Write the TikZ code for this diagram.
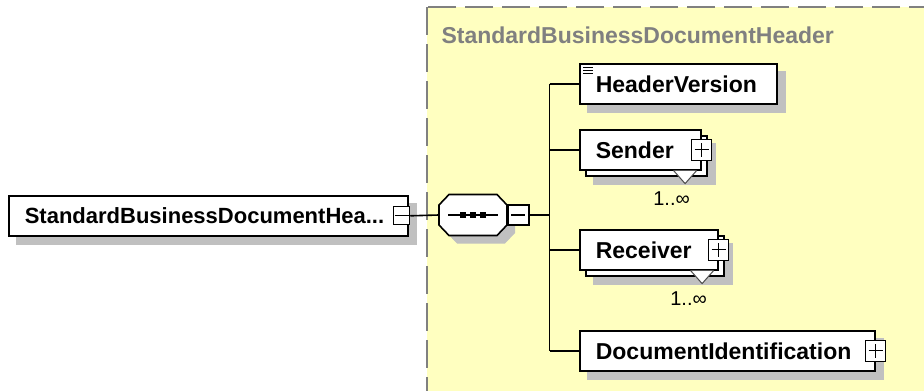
\documentclass[tikz,border=0pt]{standalone}
\usepackage{fontspec}
\setmainfont{Liberation Sans}
\usetikzlibrary{shadows}
\definecolor{regionyellow}{RGB}{255,255,192}
\definecolor{regiongray}{RGB}{128,128,128}
\definecolor{shadowgray}{RGB}{192,192,192}
\begin{document}
\begin{tikzpicture}[
x=1pt, y=-1pt,
box/.style={draw, fill=white, line width=1.6pt, anchor=north west, minimum height=40pt,
    inner xsep=16pt, inner ysep=0pt, align=left, font=\fontsize{23}{27}\selectfont\bfseries},
elem/.style={box, general shadow={fill=shadowgray, draw=shadowgray, shadow xshift=8pt, shadow yshift=-8pt}},
multi/.style={box,
    general shadow={fill=shadowgray, draw=shadowgray, shadow xshift=14pt, shadow yshift=-14pt},
    copy shadow={fill=white, draw=black, shadow xshift=6pt, shadow yshift=-6pt}},
toggle/.style={draw, fill=white, line width=1.3pt, minimum width=20pt, minimum height=21pt, inner sep=0pt},
minus/.style={toggle, path picture={
    \draw[line width=1.3pt] ([xshift=-7pt]path picture bounding box.center) -- ([xshift=7pt]path picture bounding box.center);}},
plus/.style={toggle, path picture={
    \draw[line width=1.3pt] ([xshift=-7pt]path picture bounding box.center) -- ([xshift=7pt]path picture bounding box.center);
    \draw[line width=1.3pt] ([yshift=-7pt]path picture bounding box.center) -- ([yshift=7pt]path picture bounding box.center);}},
seqoutline/.style={insert path={(-34,-10) -- (-24,-20.5) -- (24,-20.5) -- (34,-10) -- (34,10) -- (24,20.5) -- (-24,20.5) -- (-34,10) -- cycle}},
seqnode/.style={minimum width=68pt, minimum height=41pt, inner sep=0pt},
region/.style={fill=regionyellow, draw=regiongray, line width=2pt, dash pattern=on 28pt off 9pt},
title/.style={anchor=west, text=regiongray, font=\fontsize{23}{27}\selectfont\bfseries},
mult/.style={font=\fontsize{20}{24}\selectfont},
link/.style={line width=1.6pt},
notch/.style={fill=white, draw=black!70, line width=1pt}
]
\fill[white] (0,0) rectangle (924,391);
\useasboundingbox (0,0) rectangle (924,391);
\begin{scope}
\clip (0,0) rectangle (924,391);
\draw[region] (427,7) rectangle (944,411);
\end{scope}

\node[title] (title) at (438,35) {StandardBusinessDocumentHeader};

\node[elem, text width=367pt, font=\fontsize{22}{26}\selectfont\bfseries] (root) at (8,195) {StandardBusinessDocumentHea...};
\node[minus, minimum width=16pt, minimum height=18pt] (rootminus) at ([xshift=-7pt]root.east) {};

\fill[shadowgray, shift={(481,223)}, seqoutline];
\draw[fill=white, line width=1.6pt, shift={(473,215)}, seqoutline];
\node[seqnode] (seq) at (473,215) {};
\draw[line width=1.3pt] ([xshift=-25pt]seq.center) -- ([xshift=25pt]seq.center);
\foreach \d in {-10,0,10}
    \fill ([shift={(\d-3,-3)}]seq.center) rectangle ([shift={(\d+3,3)}]seq.center);
\node[minus, anchor=west, minimum width=21pt, minimum height=20pt] (seqminus) at (seq.east) {};

\node[elem, text width=165pt] (hv) at (579,63) {HeaderVersion};
\node[multi, text width=89pt] (snd) at (579,129) {Sender};
\node[multi, text width=106pt] (rcv) at (579,229) {Receiver};
\node[elem, text width=263pt] (doc) at (579,330) {DocumentIdentification};

\node[plus] (sndplus) at (snd.east) {};
\node[plus] (rcvplus) at (rcv.east) {};
\node[plus] (docplus) at (doc.east) {};

\foreach \d in {4,7,10}
    \draw[line width=0.9pt] ([shift={(4,\d)}]hv.north west) -- ++(10,0);

\foreach \n in {snd,rcv}{
    \draw[notch] ([xshift=-28pt]\n.south east) -- ++(11.5,13) -- ++(11.5,-13);
    \node[mult] (\n mult) at ([shift={(-30,28)}]\n.south east) {1..∞};
}

\draw[link] (rootminus.east) -- (seq.west);
\draw[link] (seqminus.east) -- ++(20,0) coordinate (fork);
\draw[link] (fork |- hv.west) -- (fork |- doc.west);
\foreach \n in {hv,snd,rcv,doc}
    \draw[link] (fork |- \n.west) -- (\n.west);

\end{tikzpicture}
\end{document}
